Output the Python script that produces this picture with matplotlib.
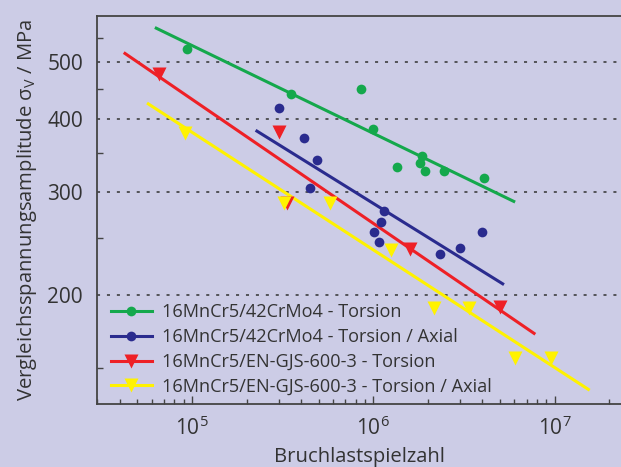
import numpy as np
import matplotlib
matplotlib.use('Agg')
import matplotlib.pyplot as plt
from matplotlib.ticker import FixedLocator, NullFormatter, FuncFormatter, LogLocator

plt.rcParams['font.family'] = ['Open Sans', 'DejaVu Sans']
plt.rcParams['mathtext.fontset'] = 'custom'
plt.rcParams['mathtext.rm'] = 'Open Sans'
plt.rcParams['mathtext.it'] = 'Open Sans'

# data (cycles, MPa)
labels = ['16MnCr5/42CrMo4 - Torsion',
          '16MnCr5/42CrMo4 - Torsion / Axial',
          '16MnCr5/EN-GJS-600-3 - Torsion',
          '16MnCr5/EN-GJS-600-3 - Torsion / Axial']
colors = ['#14a84c', '#2a2b8e', '#ee2026', '#fff200']
markers = ['o', 'o', 'v', 'v']

n_green = [9.35e4, 3.5e5, 8.5e5, 1.0e6, 1.35e6, 1.86e6, 1.81e6, 1.93e6, 2.45e6, 4.1e6]
s_green = [526, 440, 450, 384, 331, 345, 336, 326, 326, 317]
n_blue = [3.0e5, 4.16e5, 4.9e5, 4.5e5, 1.15e6, 1.1e6, 1.01e6, 1.08e6, 3.98e6, 3.0e6, 2.32e6]
s_blue = [418, 371, 340, 305, 278, 266, 256, 246, 256, 241, 235]
n_red = [6.6e4, 3.0e5, 3.35e5, 1.59e6, 5.0e6]
s_red = [476, 380, 287, 240, 191]
n_yellow = [9.1e4, 3.23e5, 5.8e5, 1.25e6, 2.16e6, 3.38e6, 6.05e6, 9.6e6]
s_yellow = [378, 287, 287, 239, 190, 190, 156, 156]

# fitted lines (start, end)
fit_n = [[6.35e4, 5.95e6], [2.28e5, 5.17e6], [4.27e4, 7.7e6], [5.74e4, 1.535e7]]
fit_s = [[571, 289], [381, 209], [517, 172], [424, 138]]

pts_n = [n_green, n_blue, n_red, n_yellow]
pts_s = [s_green, s_blue, s_red, s_yellow]

bg = '#cccce6'
fig = plt.figure(figsize=(6.21, 4.67), dpi=100, facecolor=bg)
ax = fig.add_axes([97/621, (467-404)/467, 1 - 97/621, (404-16)/467])
ax.set_facecolor(bg)
ax.set_xscale('log')
ax.set_yscale('log')
ax.set_xlim(10**4.476, 10**7.366)
ax.set_ylim(130.3, 599)

for y in [200, 300, 400, 500]:
    ax.axhline(y, color='#333333', lw=1.1, ls=(0, (2, 4.5)), zorder=1)

for i in range(4):
    ax.plot(fit_n[i], fit_s[i], color=colors[i], lw=2.2, zorder=2)
    ax.plot(pts_n[i], pts_s[i], ls='none', marker=markers[i], color=colors[i],
            ms=7 if markers[i] == 'o' else 9.5, mec='none', zorder=3)

# legend proxies
handles = [plt.Line2D([], [], color=colors[i], lw=2.2, marker=markers[i],
                      ms=7 if markers[i] == 'o' else 9.5, mec='none') for i in range(4)]
leg = ax.legend(handles, labels, loc='lower left', bbox_to_anchor=(0.012, 0.0),
                frameon=False, fontsize=13.1, handlelength=2.2, handletextpad=0.55,
                labelspacing=0.38, borderaxespad=0.05, borderpad=0.4)
for t in leg.get_texts():
    t.set_color('#333333')

ax.spines['right'].set_visible(False)
for s in ['left', 'bottom', 'top']:
    ax.spines[s].set_color('#444444')
    ax.spines[s].set_linewidth(1.3)

ax.yaxis.set_major_locator(FixedLocator([200, 300, 400, 500]))
ax.yaxis.set_minor_locator(FixedLocator([150, 250, 350, 450, 550]))
ax.yaxis.set_major_formatter(FuncFormatter(lambda v, p: f'{v:.0f}'))
ax.yaxis.set_minor_formatter(NullFormatter())
ax.tick_params(axis='y', which='major', length=0, pad=10, labelsize=15, labelcolor='#333333')
ax.tick_params(axis='y', which='minor', direction='in', length=4, width=1, color='#444444')

ax.xaxis.set_major_locator(LogLocator(base=10, numticks=10))
ax.xaxis.set_minor_locator(LogLocator(base=10, subs=np.arange(2, 10), numticks=20))
ax.xaxis.set_major_formatter(FuncFormatter(lambda v, p: f'$10^{{{int(round(np.log10(v)))}}}$'))
ax.xaxis.set_minor_formatter(NullFormatter())
ax.tick_params(axis='x', which='major', direction='in', length=6, width=1, pad=9,
               labelsize=15, labelcolor='#333333', color='#444444', top=False)
ax.tick_params(axis='x', which='minor', direction='in', length=3.5, width=1, color='#444444', top=False)

ax.set_xlabel('Bruchlastspielzahl', fontsize=14.6, color='#333333', labelpad=5)
ax.set_ylabel(r'Vergleichsspannungsamplitude σ$_\mathrm{V}$ / MPa', fontsize=14.6,
              color='#333333', labelpad=6)

fig.savefig('out.png', dpi=100, facecolor=bg)
